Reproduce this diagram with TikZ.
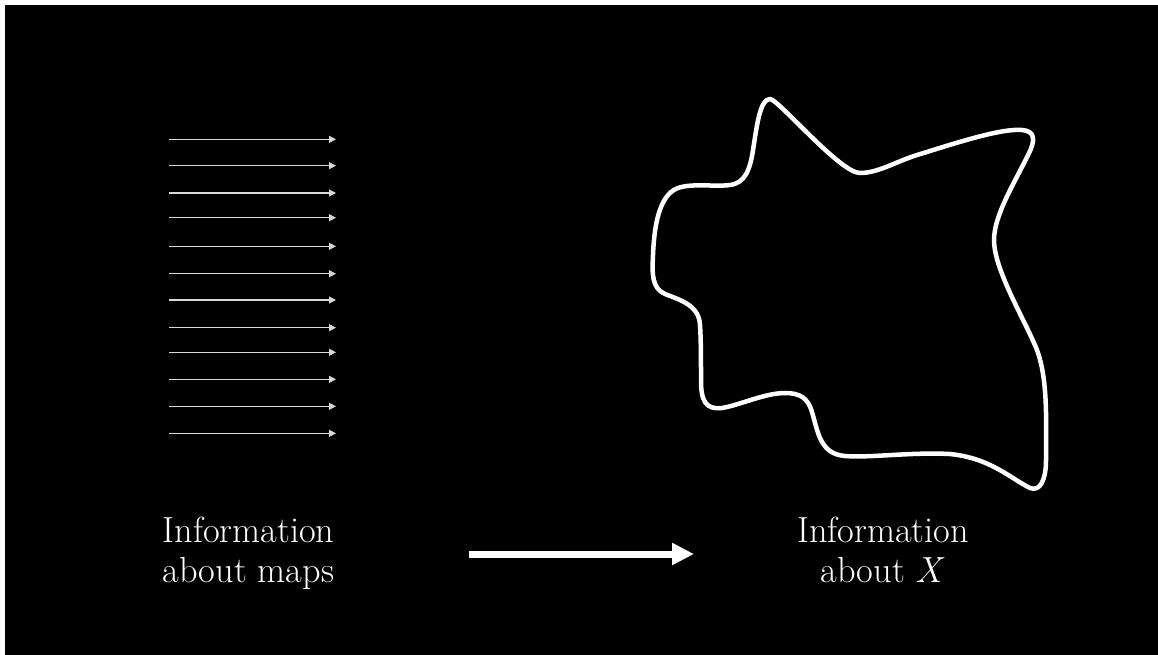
\documentclass[tikz,border=0pt]{standalone}
\usepackage{fontspec}
\usetikzlibrary{arrows.meta}
\begin{document}
\begin{tikzpicture}[x=1pt,y=-1pt,
  smallarrow/.style={draw=white!85!black,line width=1.1pt,-{Triangle[length=7pt,width=7pt]}},
  bigarrow/.style={draw=white,line width=7pt,-{Triangle[length=22pt,width=21pt]}},
  blob/.style={draw=white,line width=4.5pt,line join=round},
  label/.style={text=white,align=center,font=\fontsize{36.3}{40}\selectfont,inner sep=0pt}]
\useasboundingbox (0,0) rectangle (1158,654);
\fill[black] (-10,-10) rectangle (1170,670);
\fill[white] (-10,-10) rectangle (1170,5);
\fill[white] (-10,-10) rectangle (4.5,670);
% parallel arrows
\foreach \y [count=\i] in {139.3,165.7,193,217.7,246.3,273.7,300,327.7,352.3,379.3,406.3,433.3}{
  \coordinate (s\i) at (169,\y);
  \coordinate (e\i) at (336,\y);
  \draw[smallarrow] (s\i) -- (e\i);
}
% blob
\draw[blob] (770,99)
  .. controls (778,99) and (840,173) .. (860,173)
  .. controls (878,173) and (895,162) .. (917,155)
  .. controls (950,145) and (1000,128) .. (1022,130)
  .. controls (1035,131) and (1036,140) .. (1028,155)
  .. controls (1015,182) and (994,215) .. (994,240)
  .. controls (994,270) and (1025,320) .. (1037,350)
  .. controls (1048,380) and (1046,420) .. (1046,460)
  .. controls (1046,480) and (1040,492) .. (1030,488)
  .. controls (1010,478) and (990,458) .. (950,454)
  .. controls (910,452) and (870,458) .. (845,456)
  .. controls (820,454) and (818,432) .. (812,412)
  .. controls (808,398) and (800,393) .. (785,393)
  .. controls (765,393) and (740,405) .. (722,408)
  .. controls (705,410) and (701,400) .. (701,380)
  .. controls (701,360) and (701,340) .. (700,325)
  .. controls (699,305) and (680,300) .. (665,294)
  .. controls (652,288) and (652,275) .. (653,255)
  .. controls (654,230) and (658,195) .. (678,188)
  .. controls (692,183) and (715,187) .. (730,185)
  .. controls (745,183) and (750,170) .. (753,150)
  .. controls (757,125) and (760,99) .. (770,99) -- cycle;
% labels
\node[label,anchor=base] (maps) at (248.5,582) {Information\\about maps};
\node[label,anchor=base] (about) at (883,582) {Information\\about \textit{X}};
% big arrow
\coordinate (a1) at (469,554);
\coordinate (a2) at (694,554);
\draw[bigarrow] (a1) -- (a2);
\end{tikzpicture}
\end{document}
